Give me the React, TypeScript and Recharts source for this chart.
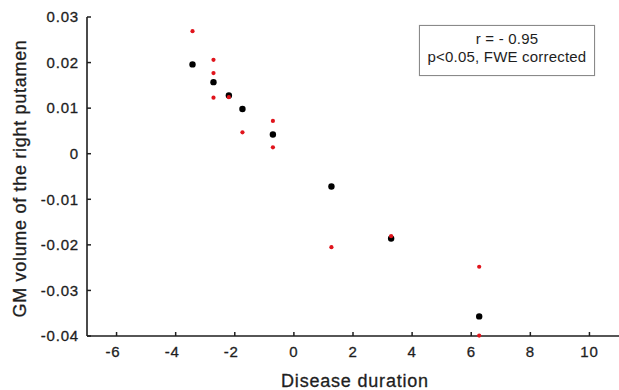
import React from "react";
import { ScatterChart, Scatter, XAxis, YAxis } from "recharts";

// Disease duration (x) and GM volume (y) values
const blackX = [-3.43, -2.72, -2.2, -1.74, -0.71, 1.27, 3.29, 6.27];
const blackY = [0.0196, 0.0157, 0.0128, 0.0098, 0.0042, -0.0072, -0.0186, -0.0357];
const redX = [-3.43, -2.72, -2.72, -2.72, -2.2, -1.74, -0.71, -0.71, 1.27, 3.29, 6.27, 6.27];
const redY = [0.0269, 0.0206, 0.0177, 0.0123, 0.0124, 0.0047, 0.0072, 0.0014, -0.0205, -0.0181, -0.0248, -0.0399];

const xTicks = [-6, -4, -2, 0, 2, 4, 6, 8, 10];
const yTicks = [-0.04, -0.03, -0.02, -0.01, 0, 0.01, 0.02, 0.03];
const yTickLabels = ["-0.04", "-0.03", "-0.02", "-0.01", "0", "0.01", "0.02", "0.03"];

const xLabel = "Disease duration";
const yLabel = "GM volume of the right putamen";
const statLines = ["r = - 0.95", "p<0.05, FWE corrected"];

const blackData = blackX.map((x, i) => ({ x, y: blackY[i] }));
const redData = redX.map((x, i) => ({ x, y: redY[i] }));

const FONT = "'Liberation Sans', Arial, Helvetica, sans-serif";
const INK = "#1e1e1e";
const THICK = { stroke: INK, strokeWidth: 0.3 };

const XTick = (props: any) => {
  const { x, y, payload } = props;
  const v = payload.value as number;
  const shift = v < 0 ? -3.5 : 0;
  return (
    <text
      x={x + shift}
      y={y}
      dy="0.71em"
      textAnchor="middle"
      fill={INK}
      fontSize={15}
      fontFamily={FONT}
      {...THICK}
      style={{ letterSpacing: 0.8 }}
    >
      {String(v)}
    </text>
  );
};

const YTick = (props: any) => {
  const { x, y, payload } = props;
  const idx = yTicks.indexOf(payload.value);
  const label = idx >= 0 ? yTickLabels[idx] : String(payload.value);
  return (
    <text
      x={x}
      y={y}
      dy="0.355em"
      textAnchor="end"
      fill={INK}
      fontSize={15}
      fontFamily={FONT}
      {...THICK}
      style={{ letterSpacing: 0.8 }}
    >
      {label}
    </text>
  );
};

const BlackDot = (props: any) => <circle cx={props.cx} cy={props.cy} r={3.2} fill="#000" />;
const RedDot = (props: any) => <circle cx={props.cx} cy={props.cy} r={2.1} fill="#e0141c" />;

export default function App() {
  return (
    <div style={{ position: "absolute", left: 0, top: 0, width: 619, height: 390, background: "#fff" }}>
      <ScatterChart width={619} height={390} margin={{ top: 17, right: 0, bottom: 0, left: 0 }}>
        <XAxis
          type="number"
          dataKey="x"
          domain={[-7, 11]}
          ticks={xTicks}
          height={54}
          axisLine={{ stroke: INK, strokeWidth: 1.6 }}
          tickLine={{ stroke: INK, strokeWidth: 1.5 }}
          tickSize={-4}
          tickMargin={14}
          tick={<XTick />}
          interval={0}
          label={{
            content: (p: any) => {
              const vb = p.viewBox;
              return (
                <text
                  x={vb.x + vb.width / 2 + 2}
                  y={vb.y + 51}
                  textAnchor="middle"
                  fill={INK}
                  fontSize={18}
                  fontFamily={FONT}
                  {...THICK}
                  style={{ letterSpacing: 0.8 }}
                >
                  {xLabel}
                </text>
              );
            },
          }}
        />
        <YAxis
          type="number"
          dataKey="y"
          domain={[-0.04, 0.03]}
          ticks={yTicks}
          width={87}
          axisLine={{ stroke: INK, strokeWidth: 1.6 }}
          tickLine={{ stroke: INK, strokeWidth: 1.5 }}
          tickSize={-4}
          tickMargin={12}
          tick={<YTick />}
          interval={0}
          label={{
            content: (p: any) => {
              const vb = p.viewBox;
              const cx = vb.x + 20;
              const cy = vb.y + vb.height / 2 + 2;
              return (
                <text
                  x={cx}
                  y={cy}
                  transform={`rotate(-90 ${cx} ${cy})`}
                  textAnchor="middle"
                  dominantBaseline="central"
                  fill={INK}
                  fontSize={18}
                  fontFamily={FONT}
                  {...THICK}
                  style={{ letterSpacing: 0.7 }}
                >
                  {yLabel}
                </text>
              );
            },
          }}
        />
        <Scatter data={blackData} shape={<BlackDot />} isAnimationActive={false} />
        <Scatter data={redData} shape={<RedDot />} isAnimationActive={false} />
      </ScatterChart>
      <div
        style={{
          position: "absolute",
          left: 419,
          top: 25,
          width: 174,
          height: 45,
          border: "1px solid #8a8a8a",
          boxSizing: "content-box",
          fontFamily: FONT,
          fontSize: 15,
          color: INK,
          textAlign: "center",
          lineHeight: "18px",
          paddingTop: 4,
          boxShadow: "0 0 1px #bbb",
          letterSpacing: 0.2,
        }}
      >
        <div>{statLines[0]}</div>
        <div>{statLines[1]}</div>
      </div>
    </div>
  );
}
